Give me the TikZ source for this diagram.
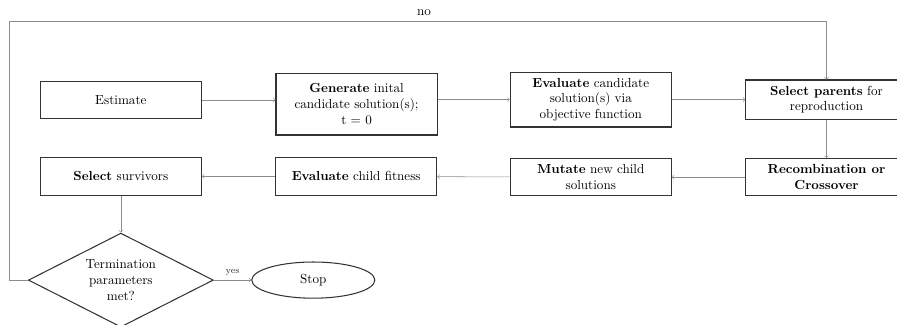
\documentclass[tikz,border=0pt]{standalone}
\usepackage{amsmath,amssymb}
\usepackage{tikz}
\usetikzlibrary{shapes.geometric}

\begin{document}
\begin{tikzpicture}[
        box/.style={draw=black!80, thick, minimum width=4.32cm,
                    minimum height=1cm, text width=3.55cm, align=flush center},
        decision/.style={draw=black!80, thick, diamond, aspect=2, inner sep=0pt,
                         minimum width=4.96cm, minimum height=2.52cm,
                         text width=2.2cm, align=flush center},
        term/.style={draw=black!80, thick, ellipse, minimum width=3.3cm,
                     minimum height=0.97cm},
        arr/.style={->, black!45}
      ]
      \useasboundingbox (0,0) rectangle (24.05,-8.69);
      \clip (0,0) rectangle (24.05,-8.69);

      % top row
      \node[box] (est) at (3.24,-2.68) {Estimate};
      \node[box, minimum height=1.66cm] (gen) at (9.56,-2.79)
           {\textbf{Generate} inital candidate solution(s); t~=~0};
      \node[box, minimum height=1.47cm] (eval) at (15.84,-2.67)
           {\textbf{Evaluate} candidate solution(s) via objective function};
      \node[box, minimum height=1.05cm] (selpar) at (22.16,-2.67)
           {\textbf{Select parents} for reproduction};

      % bottom row
      \node[box] (recomb) at (22.16,-4.75) {\textbf{Recombination or Crossover}};
      \node[box] (mutate) at (15.84,-4.75) {\textbf{Mutate} new child solutions};
      \node[box] (evchild) at (9.55,-4.73) {\textbf{Evaluate} child fitness};
      \node[box] (selsurv) at (3.24,-4.73) {\textbf{Select} survivors};

      % termination
      \node[decision] (term) at (3.24,-7.51) {Termination parameters met?};
      \node[term] (stop) at (8.40,-7.51) {Stop};

      \coordinate (loop) at (0.24,-0.56);
      \node (no) at (11.37,-0.35) {no};

      \draw[arr] (est.east) -- (est.east -| gen.west);
      \draw[arr] (eval.west -| gen.east) -- (eval.west);
      \draw[arr] (eval) -- (selpar);
      \draw[arr] (selpar) -- (recomb);
      \draw[arr] (recomb) -- (mutate);
      \draw[arr] (mutate) -- (evchild);
      \draw[arr] (evchild) -- (selsurv);
      \draw[arr] (selsurv) -- (term);
      \draw[arr] (term) -- node[above, font=\scriptsize, text=black!80] {yes} (stop);
      \draw[arr] (term.west) -| (loop) -| (selpar.north);
    \end{tikzpicture}
\end{document}
